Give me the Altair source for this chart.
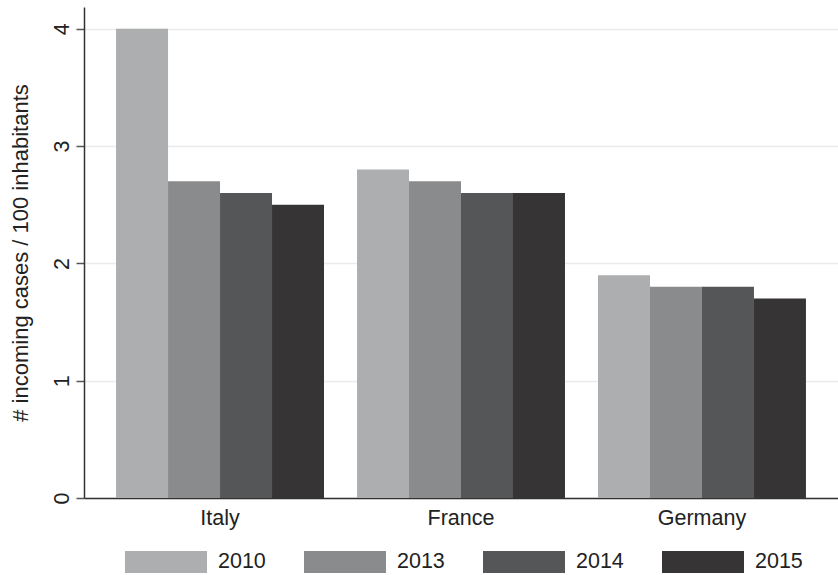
import altair as alt
import pandas as pd

# Incoming cases per 100 inhabitants, by country and year
countries = ["Italy", "France", "Germany"]
years = ["2010", "2013", "2014", "2015"]
italy = [4.0, 2.7, 2.6, 2.5]
france = [2.8, 2.7, 2.6, 2.6]
germany = [1.9, 1.8, 1.8, 1.7]
y_ticks = [0, 1, 2, 3, 4]
year_colors = ["#adaeb0", "#8a8b8d", "#545658", "#363435"]

rows = []
for country, vals in zip(countries, [italy, france, germany]):
    for yr, v in zip(years, vals):
        rows.append({"country": country, "year": yr, "value": v})
df = pd.DataFrame(rows)

FONT = "Liberation Sans, Arial, sans-serif"
TEXT = "#222222"
LABEL_SIZE = 21.5

# wide, flat legend swatch (scaled by symbolSize)
swatch = "M-3.727,-1H3.727V1H-3.727Z"

bars = alt.Chart(df).mark_bar(stroke=None).encode(
    x=alt.X(
        "country:N",
        sort=countries,
        scale=alt.Scale(paddingInner=0.137, paddingOuter=0.133),
        axis=alt.Axis(
            title=None,
            ticks=False,
            labelAngle=0,
            labelPadding=9,
            labelFontSize=LABEL_SIZE,
            labelColor=TEXT,
            labelFont=FONT,
            domainColor="#333333",
            domainWidth=1.5,
            grid=False,
        ),
    ),
    xOffset=alt.XOffset("year:N", sort=years, scale=alt.Scale(paddingInner=0, paddingOuter=0)),
    y=alt.Y(
        "value:Q",
        scale=alt.Scale(domain=[0, 4.186], nice=False, zero=True),
        axis=alt.Axis(
            title="# incoming cases / 100 inhabitants",
            values=y_ticks,
            format="d",
            labelAngle=270,
            labelAlign="center",
            labelBaseline="alphabetic",
            labelPadding=8,
            labelFontSize=LABEL_SIZE,
            labelColor=TEXT,
            labelFont=FONT,
            tickSize=8,
            tickColor="#555555",
            tickWidth=1.5,
            domainColor="#333333",
            domainWidth=1.5,
            grid=True,
            gridColor="#ebebeb",
            gridWidth=1.5,
            titleFont=FONT,
            titleFontSize=22,
            titleFontWeight="normal",
            titleColor=TEXT,
            titlePadding=19,
        ),
    ),
    color=alt.Color(
        "year:N",
        sort=years,
        scale=alt.Scale(domain=years, range=year_colors),
        legend=alt.Legend(
            title=None,
            orient="none",
            legendX=71,
            legendY=544,
            direction="horizontal",
            columns=4,
            columnPadding=38,
            symbolType=swatch,
            symbolSize=484,
            symbolStrokeWidth=0,
            symbolOpacity=1,
            labelOffset=41,
            labelFontSize=LABEL_SIZE,
            labelFont=FONT,
            labelColor=TEXT,
            padding=0,
        ),
    ),
)

chart = bars.properties(
    width=754,
    height=491,
    autosize=alt.AutoSizeParams(type="none"),
    padding={"left": 84, "top": 7, "right": 0, "bottom": 77},
    background="white",
).configure_view(stroke=None)

chart.save("out.html", embed_options={"renderer": "svg", "actions": False})
